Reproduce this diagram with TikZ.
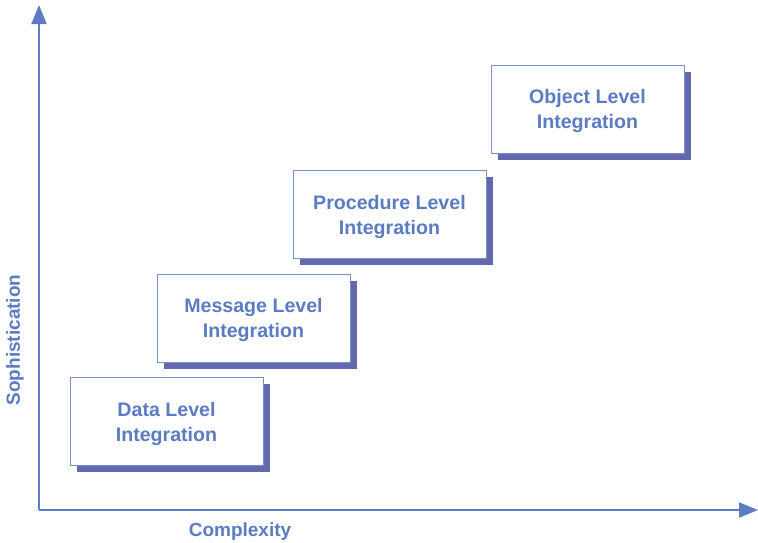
\documentclass[tikz,border=0pt]{standalone}
\usepackage{fontspec}
\setmainfont{Liberation Sans}
\usetikzlibrary{arrows.meta,shadows}
\definecolor{txtblue}{HTML}{5B7BC2}
\definecolor{edgeblue}{HTML}{7890CC}
\definecolor{shadowblue}{HTML}{6468AC}
\definecolor{axisblue}{HTML}{5D7CC4}
\tikzset{
  level/.style={draw=edgeblue, line width=0.9pt, fill=white, minimum width=193pt, minimum height=88pt,
    align=center, text=txtblue, font=\fontsize{19.6}{25}\selectfont\bfseries, inner sep=0pt,
    drop shadow={shadow xshift=7pt, shadow yshift=-6.5pt, fill=shadowblue, opacity=1}},
  lbl/.style={text=txtblue, font=\fontsize{19.6}{25}\selectfont\bfseries, align=center},
  axis/.style={draw=axisblue, line width=2pt, -{Triangle[length=19pt,width=15pt]}},
  axlabel/.style={text=txtblue, font=\fontsize{19}{22}\selectfont\bfseries}
}
\begin{document}
\begin{tikzpicture}[x=1pt,y=-1pt]
\useasboundingbox (0,0) rectangle (758,542);
\coordinate (o) at (39,510);
\coordinate (ytop) at (39,5);
\coordinate (xend) at (758,510);
\draw[axis] (o) -- (ytop);
\draw[axis] (o) -- (xend);
\node[level] (data) at (166.5,421.5) {};
\node[lbl] at ([yshift=-2pt]data.center) {Data Level\\Integration};
\node[level] (msg) at (253.5,318) {};
\node[lbl] at ([yshift=-2pt]msg.center) {Message Level\\Integration};
\node[level] (proc) at (389.5,214.5) {};
\node[lbl] at ([yshift=-2pt]proc.center) {Procedure Level\\Integration};
\node[level] (obj) at (587.5,109) {};
\node[lbl] at ([yshift=-2pt]obj.center) {Object Level\\Integration};
\node[axlabel] (cx) at (240,532) {Complexity};
\node[axlabel, rotate=90] (soph) at (15,340) {Sophistication};
\end{tikzpicture}
\end{document}
